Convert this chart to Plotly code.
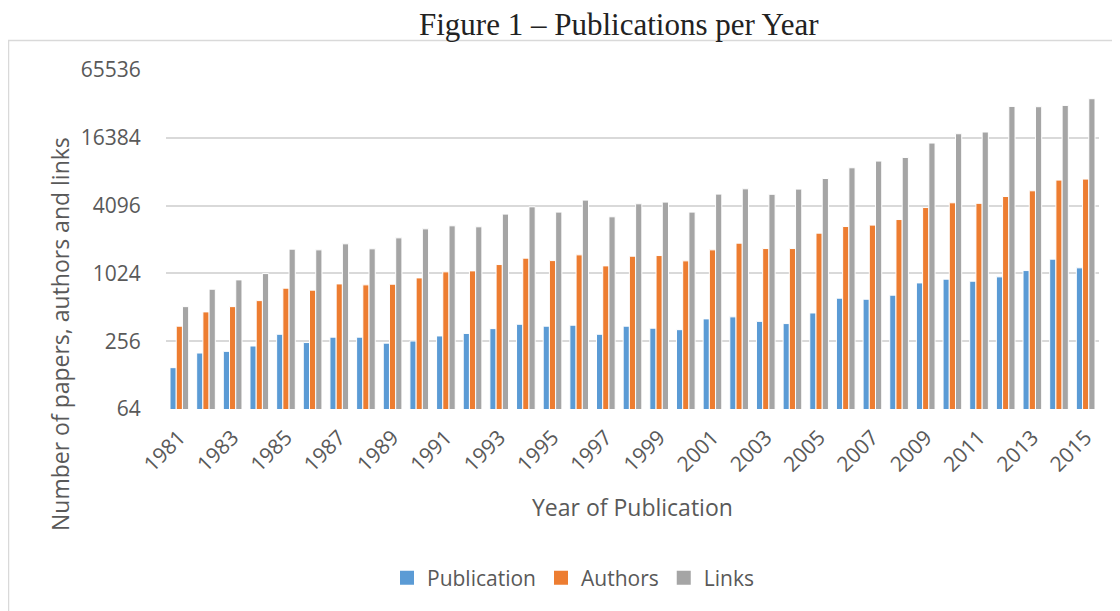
import plotly.graph_objects as go

years = [str(y) for y in range(1981, 2016)]
publication = [149, 201, 208, 232, 295, 249, 278, 278, 246, 257, 285, 300, 331, 362, 348, 355,
               295, 348, 334, 324, 404, 421, 384, 367, 456, 617, 604, 656, 843, 910, 873, 954,
               1085, 1370, 1147]
authors = [348, 466, 519, 587, 757, 727, 826, 810, 821, 934, 1057, 1078, 1227, 1398, 1331, 1496,
           1194, 1456, 1475, 1323, 1657, 1900, 1702, 1702, 2332, 2670, 2748, 3080, 3937, 4337, 4290,
           4933, 5543, 6899, 7043]
links = [519, 741, 897, 1020, 1681, 1657, 1874, 1692, 2118, 2546, 2709, 2654, 3441, 3995, 3585, 4582,
         3257, 4249, 4398, 3585, 5180, 5773, 5160, 5740, 7130, 8873, 10178, 10960, 14713, 17800, 18440,
         31120, 30930, 31770, 36430]
tick_vals = [64, 256, 1024, 4096, 16384, 65536]
tick_text = ["64", "256", "1024", "4096", "16384", "65536"]
x_ticks = years[::2]

# page has an 8px body margin; work in page coordinates and shift
OFF = 8
W, H = 1120 - OFF, 611 - OFF
L, R, T, B = 166, 1099, 70, 409  # plot area in page pixels
FONT = "Open Sans"
TXT = "#595959"

def px(x):
    return (x - L) / (R - L)

def py(y):
    return (B - y) / (B - T)

fig = go.Figure()
series = [("Publication", publication, "#5B9BD5"),
          ("Authors", authors, "#ED7D31"),
          ("Links", links, "#A5A5A5")]
for name, vals, col in series:
    fig.add_trace(go.Bar(x=years, y=vals, name=name, showlegend=False,
                         marker=dict(color=col, line=dict(color="white", width=1))))
# legend entries with larger square keys
for name, vals, col in series:
    fig.add_trace(go.Scatter(x=[None], y=[None], name=name, mode="markers",
                             marker=dict(symbol="square", size=14, color=col)))

fig.update_layout(
    width=W, height=H,
    margin=dict(l=L - OFF, r=1120 - R, t=T - OFF, b=611 - B),
    paper_bgcolor="white", plot_bgcolor="white",
    barmode="group", bargap=0.3, bargroupgap=0.0,
    font=dict(family=FONT, size=20, color=TXT),
    showlegend=True,
    legend=dict(orientation="h", x=px(573), xanchor="center", y=py(578), yanchor="middle",
                font=dict(family=FONT, size=21, color=TXT), traceorder="normal",
                itemwidth=30),
    xaxis=dict(type="category", tickangle=-45, tickmode="array", tickvals=x_ticks,
               ticktext=x_ticks, ticks="outside", ticklen=7, tickcolor="rgba(0,0,0,0)",
               showgrid=False, showline=False, zeroline=False,
               tickfont=dict(family=FONT, size=21, color=TXT)),
    yaxis=dict(type="log", range=[1.80618, 4.81648], tickmode="array", tickvals=tick_vals,
               ticktext=tick_text, showgrid=True, gridcolor="#D9D9D9", gridwidth=1.5,
               ticks="outside", ticklen=20, tickcolor="rgba(0,0,0,0)",
               showline=False, zeroline=False,
               tickfont=dict(family=FONT, size=21, color=TXT)),
    shapes=[dict(type="rect", xref="paper", yref="paper",
                 x0=px(8.5), x1=px(1130), y0=py(40.5), y1=py(620),
                 line=dict(color="#D9D9D9", width=1.5), fillcolor="rgba(0,0,0,0)", layer="below")],
    annotations=[
        dict(text="Figure 1 – Publications per Year", xref="paper", yref="paper",
             x=px(619), y=py(24), xanchor="center", yanchor="middle", showarrow=False,
             font=dict(family="Liberation Serif", size=31, color="#222222")),
        dict(text="Year of Publication", xref="paper", yref="paper",
             x=px(632), y=py(507), xanchor="center", yanchor="middle", showarrow=False,
             font=dict(family=FONT, size=23, color=TXT)),
        dict(text="Number of papers, authors and links", xref="paper", yref="paper",
             x=px(60), y=py(334), xanchor="center", yanchor="middle", showarrow=False,
             textangle=-90, font=dict(family=FONT, size=23, color=TXT)),
    ],
)

fig.write_html("out.html")
